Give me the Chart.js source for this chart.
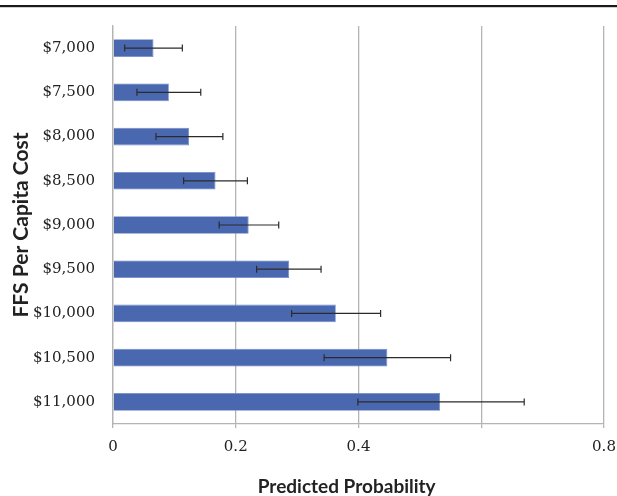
<!DOCTYPE html>
<html><head><meta charset="utf-8">
<script src="https://cdn.jsdelivr.net/npm/chart.js@4"></script>
<style>html,body{margin:0;padding:0;background:#fff}#wrap{width:617px;height:496px;position:relative}</style>
</head><body><div id="wrap"><canvas id="c" width="617" height="496"></canvas></div>
<script>
const categories = ["$7,000","$7,500","$8,000","$8,500","$9,000","$9,500","$10,000","$10,500","$11,000"];
const probability = [0.066,0.091,0.124,0.167,0.221,0.287,0.363,0.447,0.533];
const errLow = [0.019,0.039,0.070,0.115,0.173,0.234,0.291,0.344,0.399];
const errHigh = [0.113,0.143,0.179,0.219,0.270,0.339,0.436,0.550,0.670];
const xTickLabels = ["0","0.2","0.4","","0.8"];

const errorBars = {
  id:'errorBars',
  afterDatasetsDraw(chart){
    const ctx = chart.ctx, x = chart.scales.x, y = chart.scales.y;
    ctx.save();
    ctx.strokeStyle = '#2b2b2b'; ctx.lineWidth = 1.2;
    categories.forEach((c,i)=>{
      const yc = y.getPixelForValue(i);
      const x1 = x.getPixelForValue(errLow[i]), x2 = x.getPixelForValue(errHigh[i]);
      ctx.beginPath();
      ctx.moveTo(x1,yc); ctx.lineTo(x2,yc);
      ctx.moveTo(x1,yc-3.5); ctx.lineTo(x1,yc+3.5);
      ctx.moveTo(x2,yc-3.5); ctx.lineTo(x2,yc+3.5);
      ctx.stroke();
    });
    ctx.restore();
  }
};
const topRule = {
  id:'topRule',
  beforeDraw(chart){
    const ctx = chart.ctx;
    ctx.save(); ctx.fillStyle='#1a1a1a'; ctx.fillRect(0,5,chart.width,2.2); ctx.restore();
  }
};

new Chart(document.getElementById('c'),{
  type:'bar',
  data:{labels:categories,datasets:[{data:probability,backgroundColor:'#4a68b0',borderColor:'#6f86c4',borderWidth:0.8,barPercentage:0.4,categoryPercentage:1}]},
  options:{
    indexAxis:'y',responsive:false,animation:false,devicePixelRatio:1,
    layout:{padding:{top:26,right:13,left:0,bottom:0}},
    plugins:{legend:{display:false},tooltip:{enabled:false}},
    scales:{
      x:{min:0,max:0.8,
        ticks:{stepSize:0.2,padding:10,color:'#222',font:{family:'DejaVu Serif',size:15},
          callback:(v,i)=>xTickLabels[i]},
        grid:{color:'#b4b4b4',lineWidth:1.3,drawTicks:true,tickLength:4},
        border:{color:'#b4b4b4',width:1.3},
        title:{display:true,text:'Predicted Probability\u2002\u2002 ',color:'#222',font:{family:'Lato',weight:'bold',size:19,lineHeight:1},padding:{top:14,bottom:0}},
        afterFit:(s)=>{s.height=72; s.paddingRight=0; s.paddingLeft=0;}
      },
      y:{
        ticks:{color:'#222',padding:18,font:{family:'DejaVu Serif',size:15}},
        grid:{display:false,drawTicks:false},
        border:{color:'#b4b4b4',width:1.3},
        title:{display:true,text:'FFS Per Capita Cost',color:'#222',font:{family:'Lato',weight:'bold',size:21},padding:{top:9,bottom:0}},
        afterFit:(s)=>{s.width=113; s.paddingTop=0; s.paddingBottom=0;}
      }
    }
  },
  plugins:[topRule,errorBars]
});
</script></body></html>
